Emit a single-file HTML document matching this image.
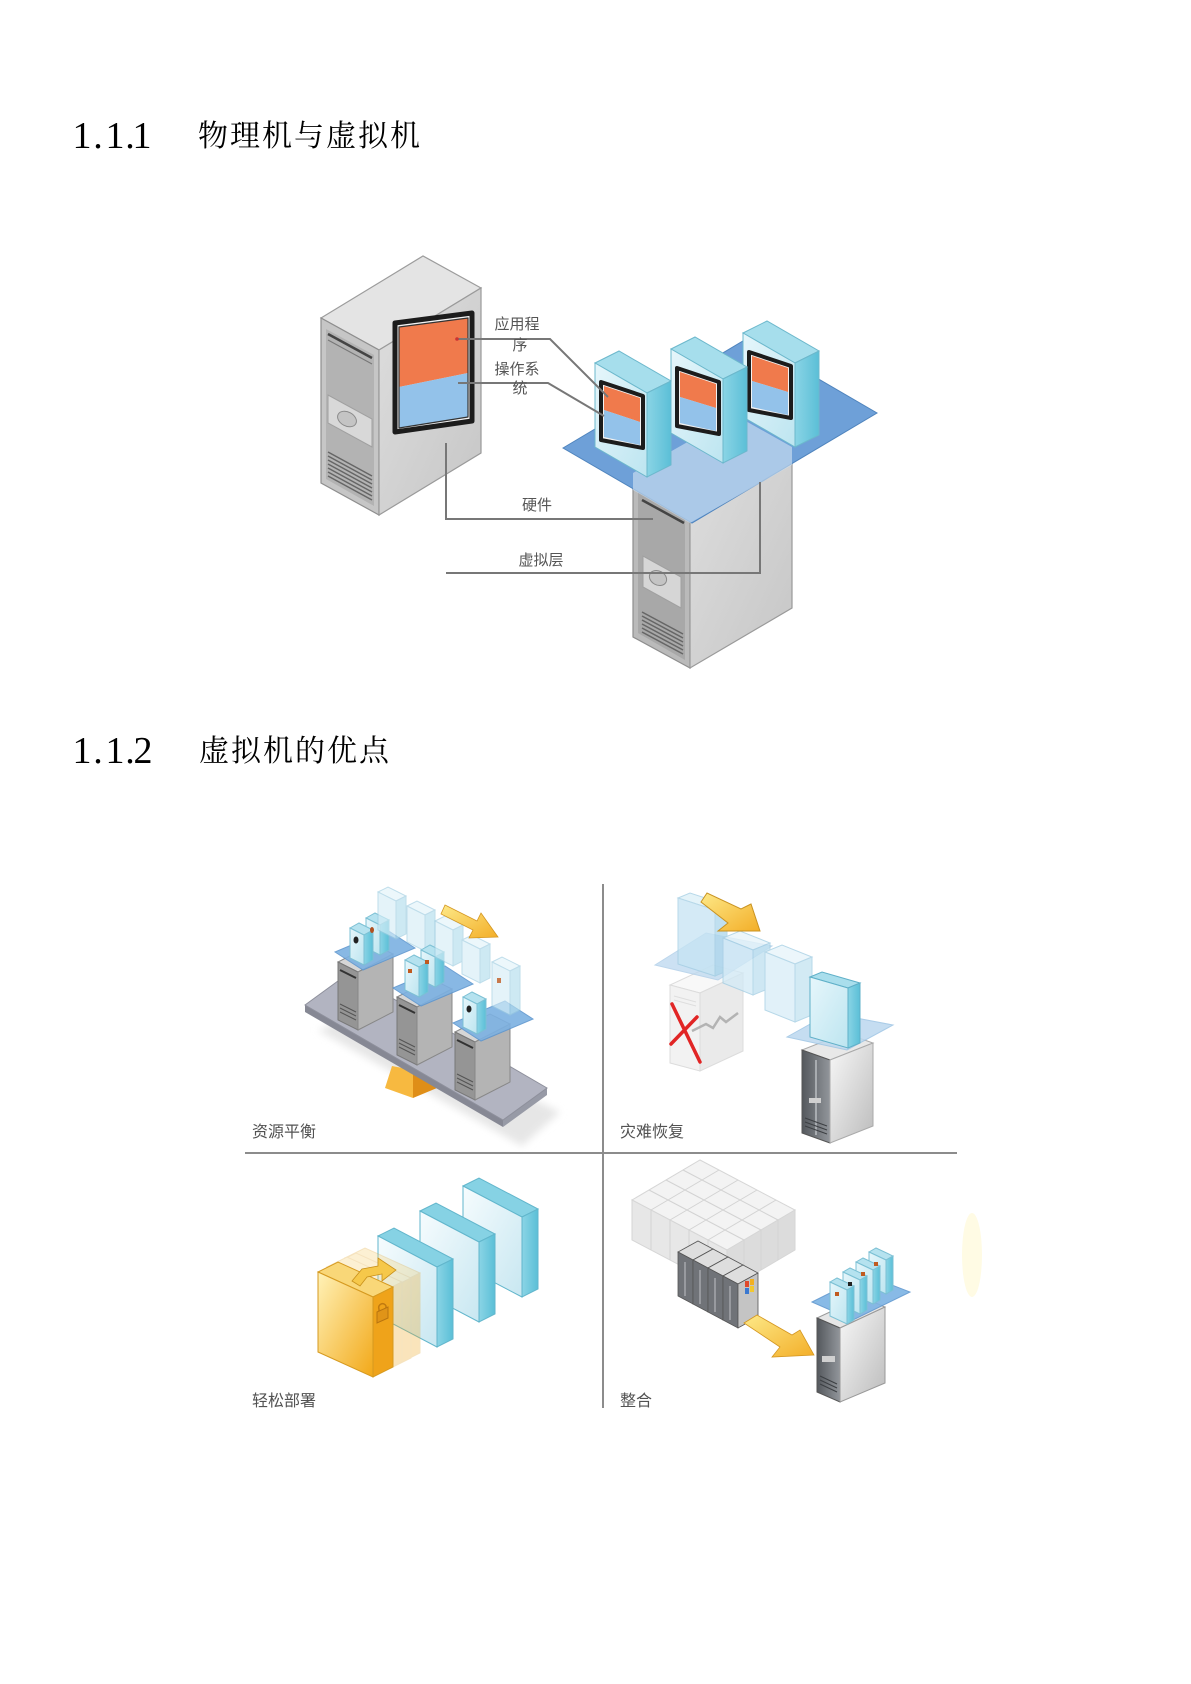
<!DOCTYPE html>
<html><head><meta charset="utf-8"><title>物理机与虚拟机</title>
<style>html,body{margin:0;padding:0;background:#fff}svg{display:block}</style></head>
<body>
<svg width="1191" height="1684" viewBox="0 0 1191 1684" xmlns="http://www.w3.org/2000/svg">
<defs>
<linearGradient id="gR1" x1="0" y1="0" x2="1" y2="1"><stop offset="0" stop-color="#dedede"/><stop offset="1" stop-color="#c6c6c6"/></linearGradient>
<linearGradient id="vmF" x1="0" y1="0" x2="1" y2="1"><stop offset="0" stop-color="#e6f6fb"/><stop offset="1" stop-color="#bde5f0"/></linearGradient>
<linearGradient id="vmS" x1="0" y1="0" x2="1" y2="0"><stop offset="0" stop-color="#8ad4e5"/><stop offset="1" stop-color="#5bbfd7"/></linearGradient>
<linearGradient id="gold" x1="0" y1="0" x2="1" y2="1"><stop offset="0" stop-color="#fff2b8"/><stop offset="1" stop-color="#f2a818"/></linearGradient>
<linearGradient id="arr" x1="0" y1="0" x2="1" y2="1"><stop offset="0" stop-color="#fde988"/><stop offset="1" stop-color="#f3ae28"/></linearGradient>
<linearGradient id="dk" x1="0" y1="0" x2="1" y2="0"><stop offset="0" stop-color="#54585d"/><stop offset="1" stop-color="#92969b"/></linearGradient>
<linearGradient id="lt" x1="0" y1="0" x2="1" y2="1"><stop offset="0" stop-color="#f8f8f8"/><stop offset="1" stop-color="#bcbcbc"/></linearGradient>
<linearGradient id="slabF" x1="0" y1="0" x2="1" y2="1"><stop offset="0" stop-color="#f6fcfe"/><stop offset="1" stop-color="#c8e7f1"/></linearGradient>
<filter id="blur" x="-20%" y="-20%" width="140%" height="140%"><feGaussianBlur stdDeviation="4"/></filter>
</defs>

<!-- ============ HEADINGS ============ -->
<g font-family="'Liberation Serif', serif" font-size="38" fill="#000" text-anchor="middle">
  <text x="82" y="148">1</text><text x="98" y="148">.</text><text x="115" y="148">1</text><text x="130" y="148">.</text><text x="142" y="148">1</text>
  <text x="82" y="763">1</text><text x="98" y="763">.</text><text x="115" y="763">1</text><text x="130" y="763">.</text><text x="143" y="763">2</text>
</g>
<g font-family="'Liberation Serif', 'Noto Serif CJK SC', serif" font-size="30" fill="#000" style="letter-spacing:2px">
  <text x="198" y="146">物理机与虚拟机</text>
  <text x="199" y="761">虚拟机的优点</text>
</g>

<!-- ============ DIAGRAM 1 ============ -->
<polygon points="321,318 423,256 481,288 379,350" fill="#e4e4e4" stroke="#9c9c9c" stroke-width="1.2"/>
<polygon points="321,318 379,350 379,515 321,483" fill="#c6c6c6" stroke="#8e8e8e" stroke-width="1.2"/>
<polygon points="326,329 374,355 374,506 326,479" fill="#b3b3b3"/>
<line x1="328" y1="334" x2="372" y2="358" stroke="#444" stroke-width="2.5"/>
<line x1="328" y1="340" x2="372" y2="364" stroke="#777" stroke-width="1"/>
<polygon points="328,395 372,419 372,447 328,423" fill="#d8d8d8" stroke="#a0a0a0"/>
<ellipse cx="347" cy="419" rx="10" ry="7" transform="rotate(28 347 419)" fill="#c4c4c4" stroke="#8a8a8a"/>
<g stroke="#666" stroke-width="1.5">
  <line x1="328" y1="452" x2="372" y2="476"/><line x1="328" y1="456" x2="372" y2="480"/>
  <line x1="328" y1="460" x2="372" y2="484"/><line x1="328" y1="464" x2="372" y2="488"/>
  <line x1="328" y1="468" x2="372" y2="492"/><line x1="328" y1="472" x2="372" y2="496"/>
  <line x1="328" y1="476" x2="372" y2="500"/>
</g>
<polygon points="379,350 481,288 481,453 379,515" fill="url(#gR1)" stroke="#9a9a9a" stroke-width="1.2"/>
<polygon points="395,323 472,313 472,421 395,432" fill="#f4f4f4" stroke="#1c1c1c" stroke-width="5" stroke-linejoin="round"/>
<polygon points="399,327 468,318 468,373 399,387" fill="#f07a4c"/>
<polygon points="399,387 468,373 468,417 399,428" fill="#93c2ea"/>
<polygon points="399,327 468,318 468,417 399,428" fill="none" stroke="#333" stroke-width="1.2" stroke-linejoin="round"/>

<!-- Server 2 -->
<polygon points="633,473 735,415 792,447 690,505" fill="#dedede" stroke="#999"/>
<polygon points="633,473 690,505 690,668 633,637" fill="#bababa" stroke="#8e8e8e" stroke-width="1.2"/>
<polygon points="638,482 685,508 685,660 638,633" fill="#a8a8a8"/>
<line x1="642" y1="500" x2="684" y2="523" stroke="#444" stroke-width="2.5"/>
<polygon points="643,556 681,577 681,608 643,587" fill="#d6d6d6" stroke="#a0a0a0"/>
<ellipse cx="658" cy="578" rx="9" ry="7" transform="rotate(28 658 578)" fill="#c4c4c4" stroke="#8a8a8a"/>
<g stroke="#666" stroke-width="1.5">
  <line x1="642" y1="612" x2="683" y2="634"/><line x1="642" y1="616" x2="683" y2="638"/>
  <line x1="642" y1="620" x2="683" y2="642"/><line x1="642" y1="624" x2="683" y2="646"/>
  <line x1="642" y1="628" x2="683" y2="650"/><line x1="642" y1="632" x2="683" y2="654"/>
</g>
<polygon points="690,505 792,447 792,608 690,668" fill="url(#gR1)" stroke="#9a9a9a" stroke-width="1.2"/>

<!-- Platform -->
<polygon points="563,448 748,338 877,413 692,523" fill="#6ea0d8" stroke="#4f84bd" stroke-width="1"/>
<polygon points="633,473 735,415 792,447 792,465 690,523 633,490" fill="#d4e4f4" opacity="0.6"/>

<!-- VM3 -->
<polygon points="743,333 767,321 819,351 795,363" fill="#a6deec" stroke="#6cb8cc"/>
<polygon points="743,333 795,363 795,447 743,417" fill="url(#vmF)" stroke="#6cb8cc"/>
<polygon points="795,363 819,351 819,435 795,447" fill="url(#vmS)" stroke="#6cb8cc"/>
<polygon points="749,352 791,366 791,418 749,410" fill="#f2f2f2" stroke="#1c1c1c" stroke-width="4" stroke-linejoin="round"/>
<polygon points="752,356 788,368 788,392 752,381" fill="#f07a4c"/>
<polygon points="752,381 788,392 788,415 752,407" fill="#93c2ea"/>
<!-- VM2 -->
<polygon points="671,349 695,337 747,367 723,379" fill="#a6deec" stroke="#6cb8cc"/>
<polygon points="671,349 723,379 723,463 671,433" fill="url(#vmF)" stroke="#6cb8cc"/>
<polygon points="723,379 747,367 747,451 723,463" fill="url(#vmS)" stroke="#6cb8cc"/>
<polygon points="677,368 719,382 719,434 677,426" fill="#f2f2f2" stroke="#1c1c1c" stroke-width="4" stroke-linejoin="round"/>
<polygon points="680,372 716,384 716,408 680,397" fill="#f07a4c"/>
<polygon points="680,397 716,408 716,431 680,423" fill="#93c2ea"/>
<!-- VM1 -->
<polygon points="595,363 619,351 671,381 647,393" fill="#a6deec" stroke="#6cb8cc"/>
<polygon points="595,363 647,393 647,477 595,447" fill="url(#vmF)" stroke="#6cb8cc"/>
<polygon points="647,393 671,381 671,465 647,477" fill="url(#vmS)" stroke="#6cb8cc"/>
<polygon points="601,382 643,396 643,448 601,440" fill="#f2f2f2" stroke="#1c1c1c" stroke-width="4" stroke-linejoin="round"/>
<polygon points="604,386 640,398 640,422 604,410" fill="#f07a4c"/>
<polygon points="604,410 640,422 640,445 604,437" fill="#93c2ea"/>

<!-- Connectors -->
<g fill="none" stroke="#777" stroke-width="2">
  <polyline points="456,339 550,339 608,397"/>
  <polyline points="458,383 548,383 604,416"/>
  <polyline points="446,443 446,519 653,519"/>
  <polyline points="446,573 760,573 760,482"/>
</g>
<circle cx="457" cy="339" r="1.8" fill="#c33"/>
<g font-family="'Liberation Sans', 'Noto Sans CJK SC', sans-serif" font-size="15" fill="#555" text-anchor="middle">
  <text x="517" y="329">应用程</text>
  <text x="520" y="350">序</text>
  <text x="517" y="374">操作系</text>
  <text x="520" y="393">统</text>
  <text x="537" y="510">硬件</text>
  <text x="541" y="565">虚拟层</text>
</g>

<!-- ============ DIAGRAM 2 ============ -->
<g stroke="#8c8c8c" stroke-width="2">
  <line x1="245" y1="1153" x2="957" y2="1153"/>
  <line x1="603" y1="884" x2="603" y2="1408"/>
</g>

<!-- ---- Q1 ---- -->
<polygon points="318,1030 356,1016 560,1112 522,1146" fill="#e6e6e6" filter="url(#blur)"/>
<polygon points="392,1066 413,1070 413,1098 385,1088" fill="#f7b940"/>
<polygon points="413,1070 432,1062 437,1088 413,1098" fill="#df8e18"/>
<polygon points="305,1005 503,1120 503,1127 305,1012" fill="#868894"/>
<polygon points="503,1120 547,1088 547,1095 503,1127" fill="#979aa6"/>
<polygon points="305,1005 349,973 547,1088 503,1120" fill="#b2b4c1" stroke="#8e909c"/>

<polygon points="338,962 358,972 393,954 373,944" fill="#d6d6d6" stroke="#888"/>
<polygon points="338,962 358,972 358,1030 338,1020" fill="#959595" stroke="#777"/>
<polygon points="358,972 393,954 393,1012 358,1030" fill="#b4b4b4" stroke="#888"/>
<line x1="340" y1="970" x2="356" y2="978" stroke="#333" stroke-width="2"/>
<g stroke="#555"><line x1="340" y1="1004" x2="356" y2="1012"/><line x1="340" y1="1008" x2="356" y2="1016"/><line x1="340" y1="1012" x2="356" y2="1020"/></g>
<polygon points="335,952 363,970 415,948 387,930" fill="#7cb1e2" stroke="#5f97cf" opacity="0.9"/>
<polygon points="366,918 375,913 389,920 380,925" fill="#b5e2ef" stroke="#7cc0d4"/>
<polygon points="366,918 380,925 380,955 366,948" fill="url(#vmF)" stroke="#7cc0d4"/>
<polygon points="380,925 389,920 389,950 380,955" fill="url(#vmS)" stroke="#7cc0d4"/>
<polygon points="350,928 359,923 373,930 364,935" fill="#b5e2ef" stroke="#7cc0d4"/>
<polygon points="350,928 364,935 364,965 350,958" fill="url(#vmF)" stroke="#7cc0d4"/>
<polygon points="364,935 373,930 373,960 364,965" fill="url(#vmS)" stroke="#7cc0d4"/>
<ellipse cx="356" cy="940" rx="2.5" ry="3.5" fill="#222"/>
<ellipse cx="372" cy="930" rx="2" ry="3" fill="#b05020"/>
<g opacity="0.65" stroke="#9ccbe0">
<polygon points="378,892 388,887 406,896 396,901" fill="#e2f3fa"/>
<polygon points="378,892 396,901 396,939 378,930" fill="#d6eef7"/>
<polygon points="396,901 406,896 406,934 396,939" fill="#b3deed"/>
<polygon points="407,906 417,901 435,910 425,915" fill="#e2f3fa"/>
<polygon points="407,906 425,915 425,951 407,942" fill="#d6eef7"/>
<polygon points="425,915 435,910 435,946 425,951" fill="#b3deed"/>
</g>
<polygon points="397,997 417,1007 452,989 432,979" fill="#d6d6d6" stroke="#888"/>
<polygon points="397,997 417,1007 417,1065 397,1055" fill="#959595" stroke="#777"/>
<polygon points="417,1007 452,989 452,1047 417,1065" fill="#b4b4b4" stroke="#888"/>
<line x1="399" y1="1005" x2="415" y2="1013" stroke="#333" stroke-width="2"/>
<g stroke="#555"><line x1="399" y1="1039" x2="415" y2="1047"/><line x1="399" y1="1043" x2="415" y2="1051"/><line x1="399" y1="1047" x2="415" y2="1055"/></g>
<polygon points="393,988 421,1006 473,984 445,966" fill="#7cb1e2" stroke="#5f97cf" opacity="0.9"/>
<polygon points="421,950 430,945 444,952 435,957" fill="#b5e2ef" stroke="#7cc0d4"/>
<polygon points="421,950 435,957 435,987 421,980" fill="url(#vmF)" stroke="#7cc0d4"/>
<polygon points="435,957 444,952 444,982 435,987" fill="url(#vmS)" stroke="#7cc0d4"/>
<polygon points="405,960 414,955 428,962 419,967" fill="#b5e2ef" stroke="#7cc0d4"/>
<polygon points="405,960 419,967 419,997 405,990" fill="url(#vmF)" stroke="#7cc0d4"/>
<polygon points="419,967 428,962 428,992 419,997" fill="url(#vmS)" stroke="#7cc0d4"/>
<rect x="408" y="969" width="4" height="4" fill="#c05a20"/>
<rect x="425" y="960" width="4" height="4" fill="#c05a20"/>
<g opacity="0.65" stroke="#9ccbe0">
<polygon points="435,921 445,916 463,925 453,930" fill="#e2f3fa"/>
<polygon points="435,921 453,930 453,966 435,957" fill="#d6eef7"/>
<polygon points="453,930 463,925 463,961 453,966" fill="#b3deed"/>
<polygon points="462,940 472,935 490,944 480,949" fill="#e2f3fa"/>
<polygon points="462,940 480,949 480,983 462,974" fill="#d6eef7"/>
<polygon points="480,949 490,944 490,978 480,983" fill="#b3deed"/>
</g>
<polygon points="445,905 477,921 481,913 498,937 469,938 473,930 441,914" fill="url(#arr)" stroke="#d49620" stroke-width="0.8"/>
<polygon points="455,1032 475,1042 510,1024 490,1014" fill="#d6d6d6" stroke="#888"/>
<polygon points="455,1032 475,1042 475,1100 455,1090" fill="#959595" stroke="#777"/>
<polygon points="475,1042 510,1024 510,1082 475,1100" fill="#b4b4b4" stroke="#888"/>
<line x1="457" y1="1040" x2="473" y2="1048" stroke="#333" stroke-width="2"/>
<g stroke="#555"><line x1="457" y1="1074" x2="473" y2="1082"/><line x1="457" y1="1078" x2="473" y2="1086"/><line x1="457" y1="1082" x2="473" y2="1090"/></g>
<polygon points="453,1023 481,1041 533,1019 505,1001" fill="#7cb1e2" stroke="#5f97cf" opacity="0.9"/>
<g opacity="0.65" stroke="#9ccbe0">
<polygon points="492,962 502,957 520,966 510,971" fill="#e2f3fa"/>
<polygon points="492,962 510,971 510,1015 492,1006" fill="#d6eef7"/>
<polygon points="510,971 520,966 520,1010 510,1015" fill="#b3deed"/>
</g>
<rect x="497" y="978" width="4" height="5" fill="#c05a20" opacity="0.8"/>
<polygon points="463,997 472,992 486,999 477,1004" fill="#b5e2ef" stroke="#7cc0d4"/>
<polygon points="463,997 477,1004 477,1034 463,1027" fill="url(#vmF)" stroke="#7cc0d4"/>
<polygon points="477,1004 486,999 486,1029 477,1034" fill="url(#vmS)" stroke="#7cc0d4"/>
<ellipse cx="469" cy="1009" rx="2.5" ry="3.5" fill="#222"/>

<!-- ---- Q2 ---- -->
<polygon points="670,985 700,993 743,973 713,965" fill="#f8f8f8" stroke="#dcdcdc"/>
<polygon points="670,985 700,993 700,1071 670,1063" fill="#f2f2f2" stroke="#dcdcdc"/>
<polygon points="700,993 743,973 743,1051 700,1071" fill="#eaeaea" stroke="#dcdcdc"/>
<g stroke="#dedede"><line x1="674" y1="996" x2="696" y2="1002"/><line x1="674" y1="1000" x2="696" y2="1006"/></g>
<polyline points="692,1031 706,1024 713,1028 720,1017 726,1022 738,1013" fill="none" stroke="#b3b3b3" stroke-width="2.5"/>
<g stroke="#e12525" stroke-width="3.5" stroke-linecap="round">
  <line x1="672" y1="1004" x2="700" y2="1062"/>
  <line x1="697" y1="1017" x2="671" y2="1044"/>
</g>
<polygon points="655,965 718,980 772,946 706,933" fill="#bcd8ef" opacity="0.75" stroke="#a7c9e6"/>
<g opacity="0.75" stroke="#a0cce2">
<polygon points="678,898 690,893 727,905 715,910" fill="#dcf0f8"/>
<polygon points="678,898 715,910 715,976 678,964" fill="#c6e4f3"/>
<polygon points="715,910 727,905 727,971 715,976" fill="#acd6eb"/>
<polygon points="723,938 740,931 770,943 753,950" fill="#e6f4fa"/>
<polygon points="723,938 753,950 753,995 723,983" fill="#d2eaf6"/>
<polygon points="753,950 770,943 770,988 753,995" fill="#bee0f0"/>
<polygon points="765,952 782,945 812,957 795,964" fill="#e6f4fa"/>
<polygon points="765,952 795,964 795,1022 765,1010" fill="#d8edf7"/>
<polygon points="795,964 812,957 812,1015 795,1022" fill="#c4e3f1"/>
</g>
<polygon points="701,902 707,893 741,909 751,904 760,931 718,931 728,923" fill="url(#arr)" stroke="#c99322" stroke-width="1"/>
<polygon points="802,1050 830,1060 873,1043 845,1033" fill="#e8e8e8" stroke="#aaa"/>
<polygon points="802,1050 830,1060 830,1143 802,1133" fill="url(#dk)" stroke="#555"/>
<line x1="816" y1="1060" x2="816" y2="1135" stroke="#a8acb0" stroke-width="2"/>
<rect x="809" y="1098" width="12" height="5" fill="#d0d0d0"/>
<g stroke="#3c3f43"><line x1="805" y1="1118" x2="827" y2="1126"/><line x1="805" y1="1122" x2="827" y2="1130"/><line x1="805" y1="1126" x2="827" y2="1134"/></g>
<polygon points="830,1060 873,1043 873,1126 830,1143" fill="url(#lt)" stroke="#aaa"/>
<polygon points="787,1037 847,1050 893,1025 830,1013" fill="#bcd8ef" opacity="0.85" stroke="#9cc4e4"/>
<polygon points="810,977 822,972 860,983 848,988" fill="#a9deec" stroke="#5fb0c8"/>
<polygon points="810,977 848,988 848,1048 810,1037" fill="url(#vmF)" stroke="#5fb0c8"/>
<polygon points="848,988 860,983 860,1043 848,1048" fill="url(#vmS)" stroke="#5fb0c8"/>

<!-- ---- Q3 ---- -->
<g stroke="#62b6cc" stroke-width="1">
<polygon points="463,1186 479,1178 538,1209 522,1217" fill="#86d2e4"/>
<polygon points="463,1186 522,1217 522,1297 463,1266" fill="url(#slabF)"/>
<polygon points="522,1217 538,1209 538,1289 522,1297" fill="url(#vmS)"/>
<polygon points="420,1211 436,1203 495,1234 479,1242" fill="#86d2e4"/>
<polygon points="420,1211 479,1242 479,1322 420,1291" fill="url(#slabF)"/>
<polygon points="479,1242 495,1234 495,1314 479,1322" fill="url(#vmS)"/>
<polygon points="378,1236 394,1228 453,1259 437,1267" fill="#86d2e4"/>
<polygon points="378,1236 437,1267 437,1347 378,1316" fill="url(#slabF)"/>
<polygon points="437,1267 453,1259 453,1339 437,1347" fill="url(#vmS)"/>
</g>
<g opacity="0.3" stroke="#e0a430">
<polygon points="345,1258 365,1248 420,1273 400,1283" fill="#f8d070"/>
<polygon points="345,1258 400,1283 400,1363 345,1338" fill="#f7c850"/>
<polygon points="400,1283 420,1273 420,1353 400,1363" fill="#f0a820"/>
<polygon points="336,1263 356,1253 411,1278 391,1288" fill="#f8d070"/>
<polygon points="336,1263 391,1288 391,1368 336,1343" fill="#f7c850"/>
<polygon points="391,1288 411,1278 411,1358 391,1368" fill="#f0a820"/>
<polygon points="327,1267 347,1257 402,1282 382,1292" fill="#f8d070"/>
<polygon points="327,1267 382,1292 382,1372 327,1347" fill="#f7c850"/>
<polygon points="382,1292 402,1282 402,1362 382,1372" fill="#f0a820"/>
</g>
<polygon points="318,1272 338,1262 393,1287 373,1297" fill="#f9d778" stroke="#d69a20"/>
<polygon points="318,1272 373,1297 373,1377 318,1352" fill="url(#gold)" stroke="#d69a20"/>
<polygon points="373,1297 393,1287 393,1367 373,1377" fill="#efa31a" stroke="#d69a20"/>
<path d="M379,1312 v-3 a3.5,3.5 0 0 1 7,-3 v3" fill="none" stroke="#c07a10" stroke-width="1.5"/>
<polygon points="377,1312 388,1307 388,1318 377,1323" fill="#e09418" stroke="#b87410"/>
<polygon points="352,1281 362,1269 378,1266 378,1258 396,1270 382,1281 382,1274 367,1277 360,1286" fill="#f6c84a" stroke="#c8901a" stroke-width="0.8"/>

<!-- ---- Q4 ---- -->
<polygon points="632,1200 727,1250 795,1210 700,1160" fill="#f3f3f3" stroke="#d6d6d6"/>
<polygon points="632,1200 727,1250 727,1290 632,1240" fill="#e7e7e7" stroke="#d6d6d6"/>
<polygon points="727,1250 795,1210 795,1250 727,1290" fill="#dcdcdc" stroke="#d6d6d6"/>
<g stroke="#d3d3d3" stroke-width="1">
  <line x1="651" y1="1210" x2="719" y2="1170"/><line x1="670" y1="1220" x2="738" y2="1180"/>
  <line x1="689" y1="1230" x2="757" y2="1190"/><line x1="708" y1="1240" x2="776" y2="1200"/>
  <line x1="649" y1="1190" x2="744" y2="1240"/><line x1="666" y1="1180" x2="761" y2="1230"/>
  <line x1="683" y1="1170" x2="778" y2="1220"/>
  <line x1="651" y1="1210" x2="651" y2="1250"/><line x1="670" y1="1220" x2="670" y2="1260"/>
  <line x1="689" y1="1230" x2="689" y2="1270"/><line x1="708" y1="1240" x2="708" y2="1280"/>
  <line x1="744" y1="1240" x2="744" y2="1280"/><line x1="761" y1="1230" x2="761" y2="1270"/>
  <line x1="778" y1="1220" x2="778" y2="1260"/>
</g>
<g stroke="#555" stroke-width="0.8">
<polygon points="678,1252 693,1260 713,1249 698,1241" fill="#dedede"/>
<polygon points="678,1252 693,1260 693,1304 678,1296" fill="#707378"/>
<polygon points="693,1260 713,1249 713,1293 693,1304" fill="#bcbcbc"/>
<polygon points="693,1260 708,1268 728,1257 713,1249" fill="#dedede"/>
<polygon points="693,1260 708,1268 708,1312 693,1304" fill="#707378"/>
<polygon points="708,1268 728,1257 728,1301 708,1312" fill="#bcbcbc"/>
<polygon points="708,1268 723,1276 743,1265 728,1257" fill="#dedede"/>
<polygon points="708,1268 723,1276 723,1320 708,1312" fill="#707378"/>
<polygon points="723,1276 743,1265 743,1309 723,1320" fill="#bcbcbc"/>
<polygon points="723,1276 738,1284 758,1273 743,1265" fill="#dedede"/>
<polygon points="723,1276 738,1284 738,1328 723,1320" fill="#707378"/>
<polygon points="738,1284 758,1273 758,1317 738,1328" fill="#c4c4c4"/>
</g>
<g stroke="#a5a8ac" stroke-width="1.5">
  <line x1="685" y1="1262" x2="685" y2="1296"/><line x1="700" y1="1270" x2="700" y2="1304"/>
  <line x1="715" y1="1278" x2="715" y2="1312"/><line x1="730" y1="1286" x2="730" y2="1320"/>
</g>
<rect x="745" y="1281" width="4" height="6" fill="#e0482a"/>
<rect x="750" y="1279" width="4" height="6" fill="#f2b020"/>
<rect x="745" y="1288" width="4" height="6" fill="#3a78d0"/>
<rect x="750" y="1286" width="4" height="6" fill="#f2c830"/>
<polygon points="744,1323 757,1315 792,1335 800,1330 814,1355 772,1357 780,1347" fill="url(#arr)" stroke="#d49620" stroke-width="0.8"/>
<polygon points="817,1318 840,1328 885,1307 862,1297" fill="#e6e6e6" stroke="#999"/>
<polygon points="817,1318 840,1328 840,1402 817,1392" fill="url(#dk)" stroke="#555"/>
<rect x="822" y="1356" width="13" height="6" fill="#d0d0d0"/>
<g stroke="#3c3f43"><line x1="820" y1="1376" x2="837" y2="1384"/><line x1="820" y1="1380" x2="837" y2="1388"/><line x1="820" y1="1384" x2="837" y2="1392"/></g>
<polygon points="840,1328 885,1307 885,1383 840,1402" fill="url(#lt)" stroke="#999"/>
<polygon points="812,1302 853,1320 910,1292 866,1275" fill="#7cb3e4" stroke="#5f97cf" opacity="0.9"/>
<g stroke="#7cc0d4">
<polygon points="869,1252 876,1248 893,1256 886,1260" fill="#b5e2ef"/>
<polygon points="869,1252 886,1260 886,1294 869,1286" fill="url(#vmF)"/>
<polygon points="886,1260 893,1256 893,1290 886,1294" fill="url(#vmS)"/>
<polygon points="856,1262 863,1258 880,1266 873,1270" fill="#b5e2ef"/>
<polygon points="856,1262 873,1270 873,1304 856,1296" fill="url(#vmF)"/>
<polygon points="873,1270 880,1266 880,1300 873,1304" fill="url(#vmS)"/>
<polygon points="843,1272 850,1268 867,1276 860,1280" fill="#b5e2ef"/>
<polygon points="843,1272 860,1280 860,1314 843,1306" fill="url(#vmF)"/>
<polygon points="860,1280 867,1276 867,1310 860,1314" fill="url(#vmS)"/>
<polygon points="830,1282 837,1278 854,1286 847,1290" fill="#b5e2ef"/>
<polygon points="830,1282 847,1290 847,1324 830,1316" fill="url(#vmF)"/>
<polygon points="847,1290 854,1286 854,1320 847,1324" fill="url(#vmS)"/>
</g>
<rect x="874" y="1262" width="4" height="4" fill="#c05a20"/>
<rect x="861" y="1272" width="4" height="4" fill="#c05a20"/>
<rect x="848" y="1282" width="4" height="4" fill="#222"/>
<rect x="835" y="1292" width="4" height="4" fill="#c05a20"/>

<ellipse cx="972" cy="1255" rx="10" ry="42" fill="#fffbe4"/>

<g font-family="'Liberation Sans', 'Noto Sans CJK SC', sans-serif" font-size="16" fill="#525252">
  <text x="252" y="1137">资源平衡</text>
  <text x="620" y="1137">灾难恢复</text>
  <text x="252" y="1406">轻松部署</text>
  <text x="620" y="1406">整合</text>
</g>
</svg>
</body></html>
